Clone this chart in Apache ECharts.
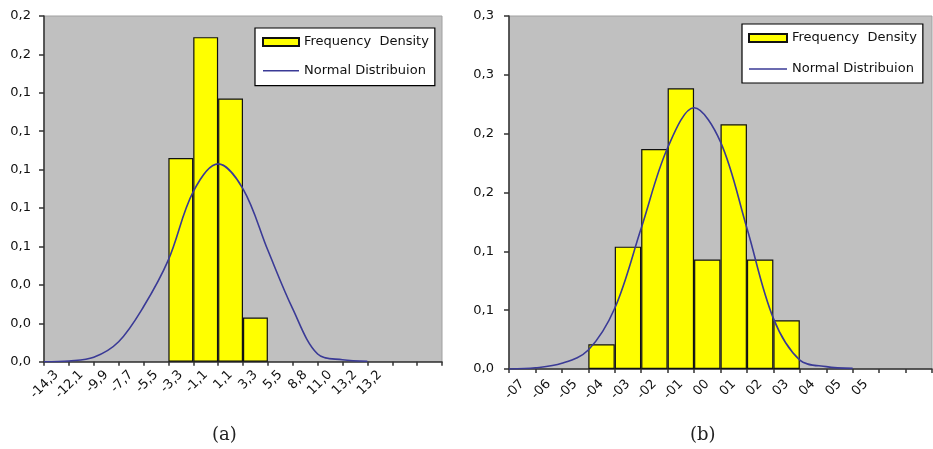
<!DOCTYPE html>
<html>
<head>
<meta charset="utf-8">
<script src="https://cdn.jsdelivr.net/npm/echarts@6/dist/echarts.min.js"></script>
<style>
  html, body { margin: 0; padding: 0; background: #fff; }
  #chart { width: 933px; height: 449px; }
</style>
</head>
<body>
<div id="chart"></div>
<script>
// (a) left histogram
var catsA = ['-14,3', '-12,1', '-9,9', '-7,7', '-5,5', '-3,3', '-1,1', '1,1', '3,3', '5,5', '8,8', '11,0', '13,2', '13,2', '', ''];
var freqA = [null, null, null, null, null, 0.106, 0.169, 0.137, 0.023, null, null, null, null, null, null, null];
// normal curve, one value per tick (class boundary)
var normA = [0, 0.0004, 0.0023, 0.0104, 0.0286, 0.053, 0.0885, 0.103, 0.09, 0.058, 0.0275, 0.004, 0.001, 0.0002, null, null, null];
var yTicksA = ['0,0', '0,0', '0,0', '0,1', '0,1', '0,1', '0,1', '0,1', '0,2', '0,2'];

// (b) right histogram
var catsB = ['-07', '-06', '-05', '-04', '-03', '-02', '-01', '00', '01', '02', '03', '04', '05', '05', '', ''];
var freqB = [null, null, null, 0.021, 0.104, 0.187, 0.2385, 0.093, 0.208, 0.093, 0.0414, null, null, null, null, null];
var normB = [0, 0.001, 0.0048, 0.0161, 0.0516, 0.1196, 0.188, 0.222, 0.193, 0.1196, 0.043, 0.0076, 0.002, 0.0005, null, null, null];
var yTicksB = ['0,0', '0,1', '0,1', '0,2', '0,2', '0,3', '0,3'];

var FONT = 'DejaVu Sans';
var axisLineStyle = { color: '#333', width: 1.5 };

function xAxisFor(idx, cats, margin) {
    return {
        type: 'category', gridIndex: idx, data: cats, boundaryGap: true,
        axisLine: { lineStyle: axisLineStyle },
        axisTick: { show: true, length: 4, lineStyle: axisLineStyle },
        axisLabel: { interval: 0, rotate: 45, margin: margin, color: '#111', fontFamily: FONT, fontSize: 13 },
        splitLine: { show: false }
    };
}

// hidden axis whose points sit on the class boundaries
function boundaryAxisFor(idx, vals) {
    return {
        type: 'category', gridIndex: idx, show: false, boundaryGap: false,
        data: vals.map(function (v, i) { return String(i); })
    };
}

function yAxisFor(idx, max, step, labels, margin) {
    return {
        type: 'value', gridIndex: idx, min: 0, max: max, interval: step,
        axisLine: { show: true, lineStyle: axisLineStyle },
        axisTick: { show: true, length: 5, lineStyle: axisLineStyle },
        splitLine: { show: false },
        axisLabel: {
            margin: margin, color: '#111', fontFamily: FONT, fontSize: 13,
            formatter: function (v) { return labels[Math.round(v / step)]; }
        }
    };
}

function legendAt(left, top, gap, w, pad) {
    return {
        orient: 'vertical', left: left, top: top,
        data: [
            { name: 'Frequency  Density', icon: 'rect' },
            { name: 'Normal Distribuion', icon: 'path://M0,0H36V1.6H0Z' }
        ],
        itemWidth: w, itemHeight: 8, itemGap: gap,
        padding: pad,
        backgroundColor: '#fff', borderColor: '#000', borderWidth: 1.2,
        textStyle: { fontFamily: FONT, fontSize: 13, color: '#111', lineHeight: 14 },
        selectedMode: false
    };
}

var barStyle = { color: '#ffff00', borderColor: '#111', borderWidth: 1.2 };
var lineStyle = { color: '#3a3a96', width: 1.6 };

var myChart = echarts.init(document.getElementById('chart'));
var option = {
    animation: false,
    backgroundColor: '#fff',
    grid: [
        { left: 44, top: 16, width: 398, height: 345.7, show: true, backgroundColor: '#c0c0c0', borderColor: '#a0a0a0', borderWidth: 1 },
        { left: 509, top: 16, width: 423, height: 353, show: true, backgroundColor: '#c0c0c0', borderColor: '#a0a0a0', borderWidth: 1 }
    ],
    xAxis: [xAxisFor(0, catsA, 11), xAxisFor(1, catsB, 13), boundaryAxisFor(0, normA), boundaryAxisFor(1, normB)],
    yAxis: [yAxisFor(0, 0.18, 0.02, yTicksA, 13), yAxisFor(1, 0.3, 0.05, yTicksB, 15)],
    legend: [
        legendAt(255, 28, 14.7, 36, [7, 6, 8, 7]),
        legendAt(742, 24, 17, 38, [7, 6, 7, 6])
    ],
    series: [
        { name: 'Frequency  Density', type: 'bar', xAxisIndex: 0, yAxisIndex: 0, data: freqA, barWidth: '100%', itemStyle: barStyle },
        { name: 'Normal Distribuion', type: 'line', xAxisIndex: 2, yAxisIndex: 0, data: normA, smooth: 0.35, symbol: 'none', lineStyle: lineStyle, itemStyle: { color: lineStyle.color }, z: 3 },
        { name: 'Frequency  Density', type: 'bar', xAxisIndex: 1, yAxisIndex: 1, data: freqB, barWidth: '100%', itemStyle: barStyle },
        { name: 'Normal Distribuion', type: 'line', xAxisIndex: 3, yAxisIndex: 1, data: normB, smooth: 0.35, symbol: 'none', lineStyle: lineStyle, itemStyle: { color: lineStyle.color }, z: 3 }
    ],
    graphic: [
        { type: 'text', left: 212, top: 426, style: { text: '(a)', font: '18px "DejaVu Serif"', fill: '#222' } },
        { type: 'text', left: 690, top: 426, style: { text: '(b)', font: '18px "DejaVu Serif"', fill: '#222' } }
    ]
};
myChart.setOption(option);
</script>
</body>
</html>
